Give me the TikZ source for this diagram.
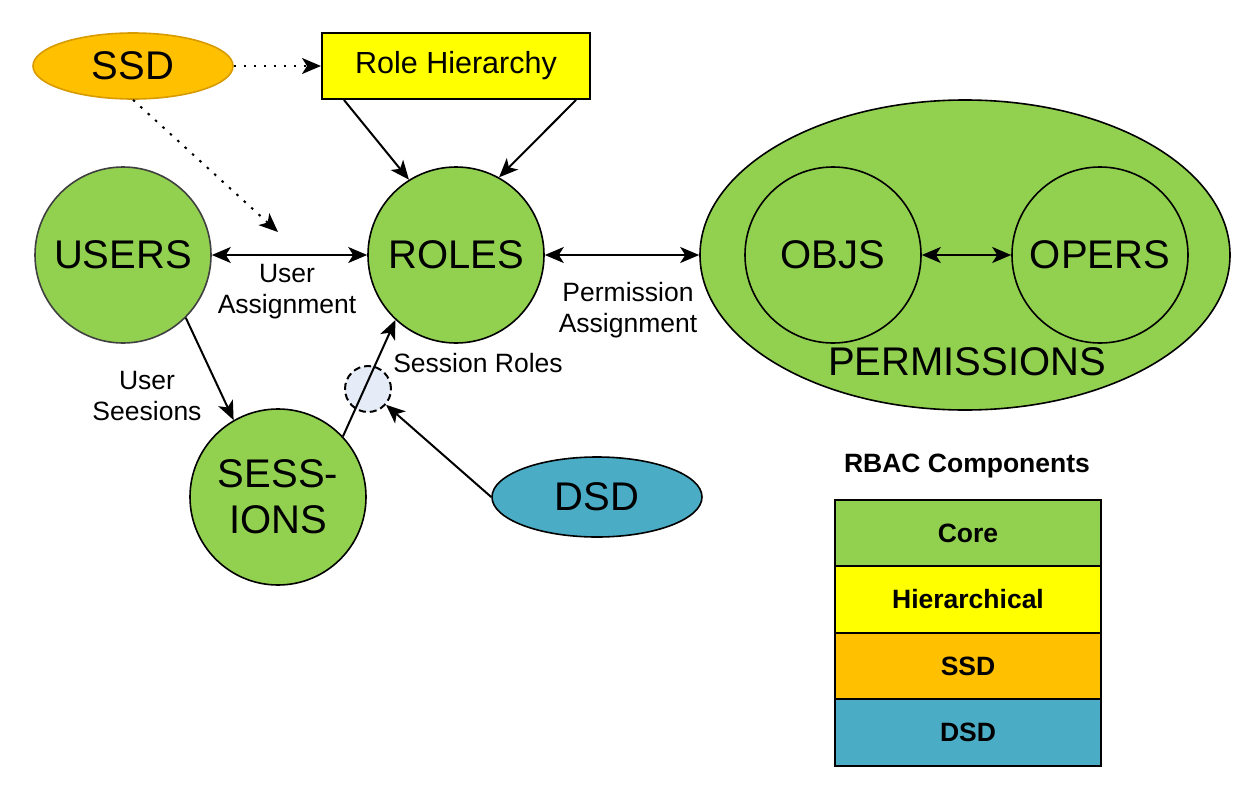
\documentclass[tikz,border=0pt]{standalone}
\usepackage{fontspec}
\setmainfont{Liberation Sans}
\usepackage{xcolor}
\usepackage{tikz}
\usetikzlibrary{arrows.meta,positioning,shapes.geometric}

\definecolor{coregreen}{HTML}{92D050}
\definecolor{hieryellow}{HTML}{FFFF00}
\definecolor{ssdorange}{HTML}{FFC000}
\definecolor{ssdborder}{HTML}{D79B00}
\definecolor{dsdblue}{HTML}{4BACC6}
\definecolor{joinfill}{HTML}{E6ECF7}

\tikzset{
  >={Stealth[length=19pt,width=16pt,inset=5pt]},
  bigfont/.style={font=\fontsize{40}{46}\selectfont},
  lblfont/.style={font=\fontsize{26.5}{31}\selectfont,align=center},
  comp/.style={circle,draw,line width=1.6pt,fill=coregreen,minimum size=176pt,
    inner sep=0pt,bigfont,align=center},
  arr/.style={line width=2pt,->},
  dotarr/.style={arr,dash pattern=on 2.5pt off 7.5pt},
  legbox/.style={draw,line width=2pt,outer sep=0pt,minimum width=266pt,
    minimum height=66.5pt,font=\bfseries\fontsize{26.5}{30}\selectfont}
}

\begin{document}
\begin{tikzpicture}[x=1pt,y=-1pt]
  \useasboundingbox (0,0) rectangle (1254,798);

  % constraint sources
  \node[ellipse,draw=ssdborder,fill=ssdorange,line width=1.6pt,
    minimum width=200pt,minimum height=66pt,bigfont] (ssd) at (133,66) {SSD};
  \node[draw,fill=hieryellow,line width=2pt,minimum width=268pt,minimum height=66pt,
    font=\fontsize{30.5}{36}\selectfont] (rh) at (456,66) {Role Hierarchy};

  % core elements
  \node[comp,draw=black!75] (users) at (123,255) {USERS};
  \node[comp] (roles) at (456,255) {ROLES};
  \node[ellipse,draw,fill=coregreen,line width=1.6pt,minimum width=530pt,
    minimum height=310pt] (perms) at (965,255) {};
  \node[comp,fill=none] (objs) at (833,255) {OBJS};
  \node[comp,fill=none] (opers) at (1100,255) {OPERS};
  \node[bigfont] (permlbl) at (967,362) {PERMISSIONS};
  \node[comp] (sess) at (278,497) {SESS-\\IONS};
  \node[ellipse,draw,fill=dsdblue,line width=1.6pt,minimum width=210pt,
    minimum height=80pt,bigfont] (dsd) at (597,497) {DSD};
  \node[circle,draw,dash pattern=on 7pt off 4pt,fill=joinfill,line width=2pt,
    minimum size=46pt] (join) at (368,389) {};

  % connectors
  \coordinate (ssdend) at (278,232);
  \draw[dotarr] (ssd) -- (rh);
  \draw[dotarr] (ssd.south) -- (ssdend);
  \draw[arr] ([xshift=23pt]rh.south west) -- (roles.122);
  \draw[arr] ([xshift=-15pt]rh.south east) -- (roles.61);
  \draw[arr,<->] (users) -- (roles);
  \draw[arr,<->] (roles) -- (perms);
  \draw[arr,<->] (objs) -- (opers);
  \draw[arr] (users.-45) -- (sess.120);
  \draw[arr] (sess.43) -- (roles.227);
  \draw[arr] (dsd.west) -- (join);

  % connector labels
  \node[lblfont] (ualbl) at (287,292) {User\\Assignment};
  \node[lblfont] (palbl) at (628,310) {Permission\\Assignment};
  \node[lblfont] (uslbl) at (147,396) {User\\Seesions};
  \node[lblfont] (srlbl) at (478,363) {Session Roles};

  % legend
  \node[font=\bfseries\fontsize{26.5}{30}\selectfont] (legtitle) at (967,466) {RBAC Components};
  \node[legbox,fill=coregreen] (core) at (968,533) {Core};
  \node[legbox,fill=hieryellow,below=0pt of core] (hier) {Hierarchical};
  \node[legbox,fill=ssdorange,below=0pt of hier] (legssd) {SSD};
  \node[legbox,fill=dsdblue,below=0pt of legssd] (legdsd) {DSD};
\end{tikzpicture}
\end{document}
